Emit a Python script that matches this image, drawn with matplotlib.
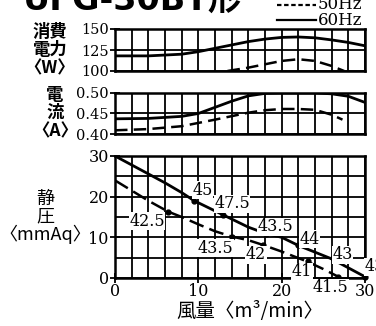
import matplotlib
matplotlib.use("Agg")
import matplotlib.pyplot as plt
from matplotlib.lines import Line2D

plt.rcParams['font.family'] = ['DejaVu Serif', 'Noto Sans CJK JP']
JP = ['Noto Sans CJK JP', 'DejaVu Serif']

# 消費電力 (W)
pw60_x = [0, 4, 8, 10, 12, 14, 16, 18, 20, 22, 24, 26, 28, 30]
pw60_y = [118, 118, 120, 123, 127, 131, 135, 138, 140, 140.5, 139.5, 137, 134, 130]
pw50_x = [13.5, 16, 18, 20, 22, 24, 26, 27.5]
pw50_y = [100, 104, 108, 112, 114, 112, 106, 100]

# 電流 (A)
cur60_x = [0, 4, 8, 10, 12, 14, 16, 18, 20, 22, 24, 26, 28, 30]
cur60_y = [0.437, 0.438, 0.443, 0.450, 0.465, 0.480, 0.493, 0.499, 0.500, 0.500, 0.500, 0.498, 0.492, 0.477]
cur50_x = [0, 4, 8, 12, 16, 18, 20, 22, 24, 26, 27.3]
cur50_y = [0.409, 0.412, 0.419, 0.435, 0.452, 0.458, 0.461, 0.461, 0.459, 0.447, 0.435]

# 静圧 (mmAq)
sp60_x = [0, 2, 4, 6, 8, 9.5, 13, 16, 18, 20, 22, 26, 30]
sp60_y = [30, 27.8, 25.6, 23.4, 21, 19, 15.5, 12.5, 11, 10, 8, 4.7, 0.3]
sp50_x = [0, 2, 4, 6.4, 8, 10, 12, 14, 16, 17.8, 20, 23, 25, 26.8]
sp50_y = [24, 21.5, 19, 16.3, 15, 13.2, 11.5, 10.2, 9.3, 8.1, 6.5, 4.1, 2.2, 0.3]

# 測定点と騒音値ラベル
pt60_x = [9.5, 13, 18.1, 22, 26.1, 30]
pt60_y = [18.9, 15.5, 10.8, 8.0, 4.9, 0.3]
pt60_lab = ['45', '47.5', '43.5', '44', '43', '43']
pt60_pos = [(9.3, 21.6), (11.9, 18.3), (17.1, 12.6), (22.1, 9.5), (26.1, 5.7), (29.9, 2.8)]

pt50_x = [6.4, 14, 17.8, 23.1, 26.8]
pt50_y = [16.3, 10.2, 8.1, 4.1, 0.3]
pt50_lab = ['42.5', '43.5', '42', '41', '41.5']
pt50_pos = [(1.7, 13.9), (9.9, 7.3), (15.7, 5.7), (21.2, 1.6), (23.7, -2.4)]

W, H = 376, 326
fig = plt.figure(figsize=(W / 100, H / 100), dpi=100)


def box(top, bottom):
    return [115 / W, (H - bottom) / H, 250 / W, (bottom - top) / H]


def style(ax, fs):
    for s in ax.spines.values():
        s.set_linewidth(1.8)
    ax.set_xlim(0, 30)
    ax.set_xticks(range(0, 31, 2), minor=True)
    ax.grid(True, which='both', color='black', linewidth=1.3)
    ax.tick_params(axis='y', which='major', direction='inout', length=7, width=1.3,
                   labelsize=fs, pad=1)
    ax.tick_params(which='minor', length=0)
    ax.set_axisbelow(True)


ax1 = fig.add_axes(box(29, 71))
style(ax1, 10.5)
ax1.set_ylim(100, 150)
ax1.set_yticks([100, 125, 150])
ax1.set_xticks([])
ax1.plot(pw60_x, pw60_y, color='black', lw=2)
ax1.plot(pw50_x, pw50_y, color='black', lw=1.8, ls=(0, (5, 2.5)))

ax2 = fig.add_axes(box(93, 134))
style(ax2, 10.5)
ax2.set_ylim(0.40, 0.50)
ax2.set_yticks([0.40, 0.45, 0.50])
ax2.set_yticklabels(['0.40', '0.45', '0.50'])
ax2.set_xticks([])
ax2.plot(cur60_x, cur60_y, color='black', lw=2)
ax2.plot(cur50_x, cur50_y, color='black', lw=1.8, ls=(0, (5, 2.5)))

ax3 = fig.add_axes(box(156, 278))
style(ax3, 11.5)
ax3.set_ylim(0, 30)
ax3.set_yticks([0, 10, 20, 30])
ax3.set_yticks(range(0, 31, 5), minor=True)
ax3.set_xticks([0, 10, 20, 30])
ax3.tick_params(axis='x', which='major', direction='inout', length=7, width=1.3,
                labelsize=11.5, pad=0)
ax3.plot(sp60_x, sp60_y, color='black', lw=2)
ax3.plot(sp50_x, sp50_y, color='black', lw=1.8, ls=(0, (6, 2.5)))
ax3.plot(pt60_x, pt60_y, 'o', color='black', ms=3.5, clip_on=False)
ax3.plot(pt50_x, pt50_y, 'o', color='black', ms=3.5, clip_on=False)
for lab, (x, y) in zip(pt60_lab + pt50_lab, pt60_pos + pt50_pos):
    ax3.text(x, y, lab, fontsize=11.5, va='center', ha='left', clip_on=False,
             bbox=dict(facecolor='white', edgecolor='none', pad=0.3))

# 軸ラベル
fig.text(50 / W, 1 - 50 / H, '消費\n電力\n〈W〉', family=JP, fontsize=12.5, fontweight='bold',
         ha='center', va='center', linespacing=1.0)
fig.text(55 / W, 1 - 113 / H, '電\n流\n〈A〉', family=JP, fontsize=12.5, fontweight='bold',
         ha='center', va='center', linespacing=1.0)
fig.text(45 / W, 1 - 217 / H, '静\n圧\n〈mmAq〉', family=JP, fontsize=13,
         ha='center', va='center', linespacing=0.95)
fig.text(250 / W, 1 - 311 / H, '風量〈m³/min〉', family=JP, fontsize=14,
         ha='center', va='center')

# タイトル（上部が切れている）
fig.text(23 / W, 1 - 10 / H, 'UFG-30BT形', family=['DejaVu Sans', 'Noto Sans CJK JP'],
         fontsize=24, fontweight='bold', ha='left', va='baseline')

# 凡例
fig.add_artist(Line2D([277 / W, 316 / W], [1 - 5 / H, 1 - 5 / H], color='black',
                      lw=1.6, ls=(0, (2, 1.2))))
fig.add_artist(Line2D([277 / W, 316 / W], [1 - 20 / H, 1 - 20 / H], color='black', lw=1.6))
fig.text(318 / W, 1 - 9 / H, '50Hz', fontsize=12, ha='left', va='baseline')
fig.text(318 / W, 1 - 25 / H, '60Hz', fontsize=12, ha='left', va='baseline')

fig.savefig('out.png', dpi=100)
